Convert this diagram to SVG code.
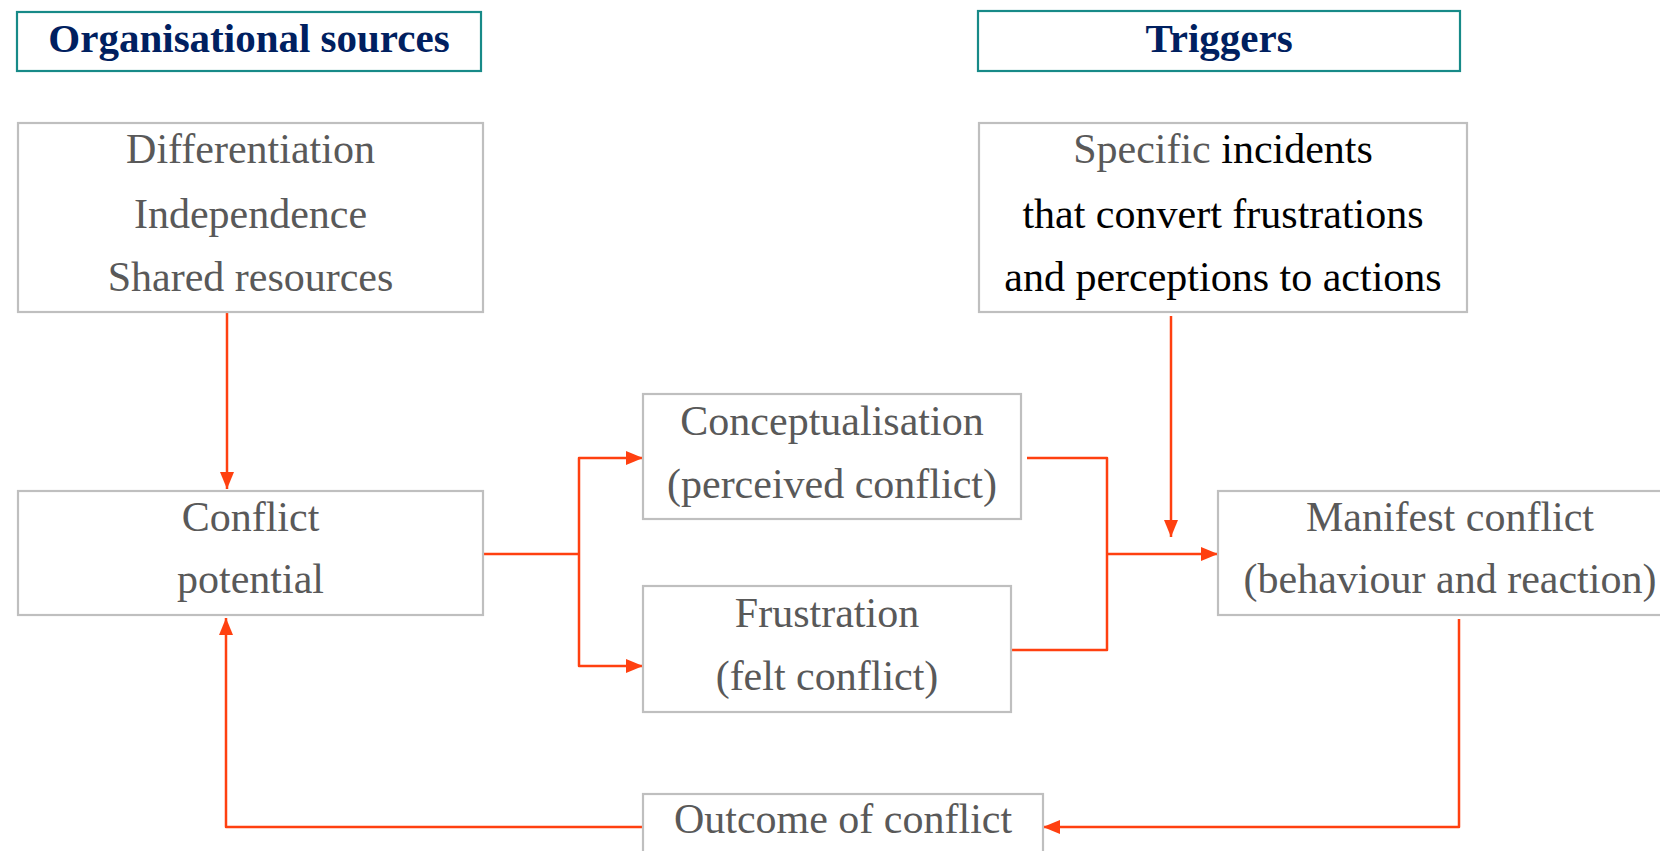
<svg xmlns="http://www.w3.org/2000/svg" width="1660" height="851" viewBox="0 0 1660 851">
<style>
.box{fill:#fff;stroke:#bfbfbf;stroke-width:2.2}
.hbox{fill:#fff;stroke:#178a88;stroke-width:2.2}
.t{font-family:'Liberation Serif','Noto Serif','Nimbus Roman','FreeSerif','DejaVu Serif',serif;font-size:42px;fill:#595959;text-anchor:middle}
.k{fill:#000}
.h{font-family:'Liberation Serif','Noto Serif','Nimbus Roman','FreeSerif','DejaVu Serif',serif;font-size:41px;font-weight:bold;fill:#002060;text-anchor:middle}
.c{fill:none;stroke:#ff4010;stroke-width:2.5;stroke-linejoin:round}
</style>
<defs>
<marker id="ah" markerUnits="userSpaceOnUse" markerWidth="17" markerHeight="14" refX="17" refY="7" orient="auto">
<path d="M0,0 L17,7 L0,14 z" fill="#ff4010"/>
</marker>
</defs>
<rect width="1660" height="851" fill="#fff"/>
<g id="connectors">
<path class="c" d="M227 313 V489" marker-end="url(#ah)"/>
<path class="c" d="M483 554 H579 M579 554 V458 H643" marker-end="url(#ah)"/>
<path class="c" d="M579 554 V666 H643" marker-end="url(#ah)"/>
<path class="c" d="M1027 458 H1107 V650 H1011"/>
<path class="c" d="M1107 554 H1218" marker-end="url(#ah)"/>
<path class="c" d="M1171 316 V537" marker-end="url(#ah)"/>
<path class="c" d="M1459 619 V827 H1043" marker-end="url(#ah)"/>
<path class="c" d="M643 827 H226 V618" marker-end="url(#ah)"/>
</g>
<g id="org-sources">
<rect class="hbox" x="17" y="12" width="464" height="59"/>
<text class="h" x="249" y="52">Organisational sources</text>
</g>
<g id="triggers">
<rect class="hbox" x="978" y="11" width="482" height="60"/>
<text class="h" x="1219" y="52">Triggers</text>
</g>
<g id="sources">
<rect class="box" x="18" y="123" width="465" height="189"/>
<text class="t" x="250.5" y="163">Differentiation</text>
<text class="t" x="250.5" y="228">Independence</text>
<text class="t" x="250.5" y="291">Shared resources</text>
</g>
<g id="incidents">
<rect class="box" x="979" y="123" width="488" height="189"/>
<text class="t" x="1223" y="163">Specific<tspan class="k"> incidents</tspan></text>
<text class="t k" x="1223" y="228">that convert frustrations</text>
<text class="t k" x="1223" y="291">and perceptions to actions</text>
</g>
<g id="conflict-potential">
<rect class="box" x="18" y="491" width="465" height="124"/>
<text class="t" x="250.5" y="531">Conflict</text>
<text class="t" x="250.5" y="593">potential</text>
</g>
<g id="conceptualisation">
<rect class="box" x="643" y="394" width="378" height="125"/>
<text class="t" x="832" y="435">Conceptualisation</text>
<text class="t" x="832" y="498">(perceived conflict)</text>
</g>
<g id="frustration">
<rect class="box" x="643" y="586" width="368" height="126"/>
<text class="t" x="827" y="627">Frustration</text>
<text class="t" x="827" y="690">(felt conflict)</text>
</g>
<g id="manifest">
<rect class="box" x="1218" y="491" width="446" height="124"/>
<text class="t" x="1450" y="531">Manifest conflict</text>
<text class="t" x="1450" y="593">(behaviour and reaction)</text>
</g>
<g id="outcome">
<rect class="box" x="643" y="794" width="400" height="70"/>
<text class="t" x="843" y="833">Outcome of conflict</text>
</g>
</svg>
